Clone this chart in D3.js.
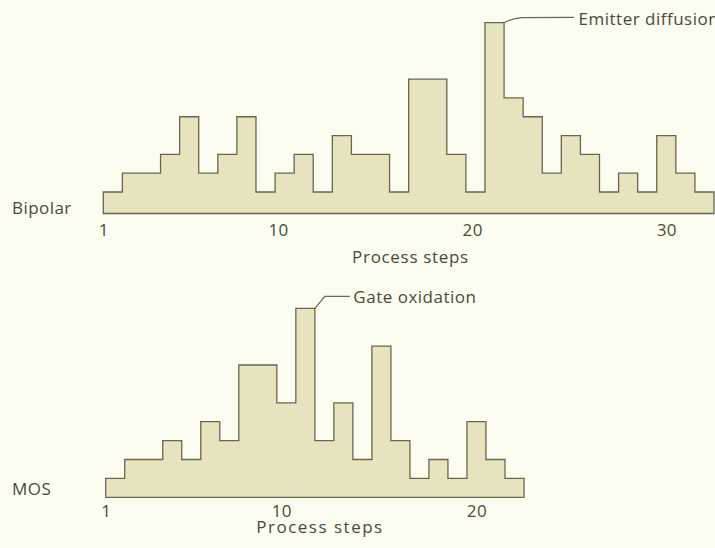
<!DOCTYPE html>
<html><head><meta charset="utf-8">
<script src="https://cdn.jsdelivr.net/npm/d3@7"></script>
<style>
html,body{margin:0;padding:0;background:#fcfcf1;}
svg{display:block;}
text{font-family:"Open Sans",sans-serif;fill:#494c33;}
</style></head><body>
<script>
// ---- data ----
const bipolarSteps = d3.range(1, 33);
const bipolarValues = [1,2,2,3,5,2,3,5,1,2,3,1,4,3,3,1,7,7,3,1,10,6,5,2,4,3,1,2,1,4,2,1];
const bipolarTicks = [1, 10, 20, 30];
const mosSteps = d3.range(1, 23);
const mosValues = [1,2,2,3,2,4,3,7,7,5,10,3,5,2,8,3,1,2,1,4,2,1];
const mosTicks = [1, 10, 20];
const xTitle = "Process steps";
const bipolarLabel = "Bipolar";
const mosLabel = "MOS";
const bipolarNote = "Emitter diffusion";
const mosNote = "Gate oxidation";

const W = 715, H = 548;
const FS = 17;
const svg = d3.select("body").append("svg").attr("width", W).attr("height", H);
svg.append("rect").attr("width", W).attr("height", H).attr("fill", "#fcfcf1");

const FILL = "#e7e3bf", STROKE = "#66684d";

function drawPanel(cfg) {
  const n = cfg.values.length;
  const x = d3.scaleLinear().domain([0, n]).range(cfg.xRange);
  const y = d3.scaleLinear().domain(cfg.yDomain).range(cfg.yRange);
  const pts = cfg.values.map((v, i) => [i, v]).concat([[n, cfg.values[n - 1]]]);
  const area = d3.area()
    .x(d => x(d[0])).y0(y(cfg.yDomain[0])).y1(d => y(d[1]))
    .curve(d3.curveStepAfter);
  const g = svg.append("g");
  g.append("path").datum(pts).attr("d", area)
    .attr("fill", FILL).attr("stroke", STROKE).attr("stroke-width", 1.3)
    .attr("stroke-linejoin", "miter");

  // tick labels
  const bw = x(1) - x(0);
  const tMax = d3.max(cfg.ticks);
  const tx = d3.scaleLinear().domain([1, tMax]).range([x(0), x(tMax - 1) + bw / 2]);
  const axis = d3.axisBottom(tx).tickValues(cfg.ticks).tickSize(0).tickPadding(0);
  const ag = g.append("g").attr("transform", `translate(0,${cfg.tickY})`).call(axis);
  ag.select(".domain").remove();
  ag.selectAll("text").attr("font-size", FS).attr("font-family", "Open Sans, sans-serif")
    .attr("fill", "#494c33").attr("dy", 0).attr("y", 0).style("letter-spacing", "0.4px");

  // axis title
  g.append("text").attr("x", cfg.titleX).attr("y", cfg.titleY)
    .attr("text-anchor", "middle").attr("font-size", FS)
    .style("letter-spacing", cfg.titleSpacing).text(xTitle);

  // series label
  g.append("text").attr("x", 12).attr("y", cfg.labelY)
    .attr("font-size", FS).style("letter-spacing", "0.45px").text(cfg.label);

  return { x, y };
}

// Bipolar
const b = drawPanel({
  values: bipolarValues, ticks: bipolarTicks,
  xRange: [103.3, 714], yDomain: [-0.144, 10], yRange: [213.5, 22.7],
  tickY: 235.5, titleX: 410.5, titleY: 262.5, titleSpacing: "0.68px",
  label: bipolarLabel, labelY: 213.5
});
// Emitter diffusion annotation (step 21)
{
  const i = bipolarValues.indexOf(d3.max(bipolarValues));
  const x0 = b.x(i + 1), y0 = b.y(bipolarValues[i]);
  svg.append("path")
    .attr("d", `M${x0},${y0} C${x0 + 6},${y0 - 3} ${x0 + 10},${y0 - 4.5} ${x0 + 18},${y0 - 5} L${x0 + 70},${y0 - 5.4}`)
    .attr("fill", "none").attr("stroke", STROKE).attr("stroke-width", 1.2);
  svg.append("text").attr("x", x0 + 74.5).attr("y", 25)
    .attr("font-size", FS).style("letter-spacing", "0.5px").text(bipolarNote);
}

// MOS
const m = drawPanel({
  values: mosValues, ticks: mosTicks,
  xRange: [105.7, 524], yDomain: [0, 10], yRange: [497.3, 308.3],
  tickY: 516.5, titleX: 320, titleY: 533, titleSpacing: "1.5px",
  label: mosLabel, labelY: 495
});
// Gate oxidation annotation (step 11)
{
  const i = mosValues.indexOf(d3.max(mosValues));
  const x0 = m.x(i + 1), y0 = m.y(mosValues[i]);
  svg.append("path")
    .attr("d", `M${x0},${y0} L${x0 + 10},${y0 - 12} L${x0 + 35},${y0 - 12}`)
    .attr("fill", "none").attr("stroke", STROKE).attr("stroke-width", 1.2);
  svg.append("text").attr("x", x0 + 38.5).attr("y", 303.3)
    .attr("font-size", FS).style("letter-spacing", "0.5px").text(mosNote);
}
</script>
</body></html>
